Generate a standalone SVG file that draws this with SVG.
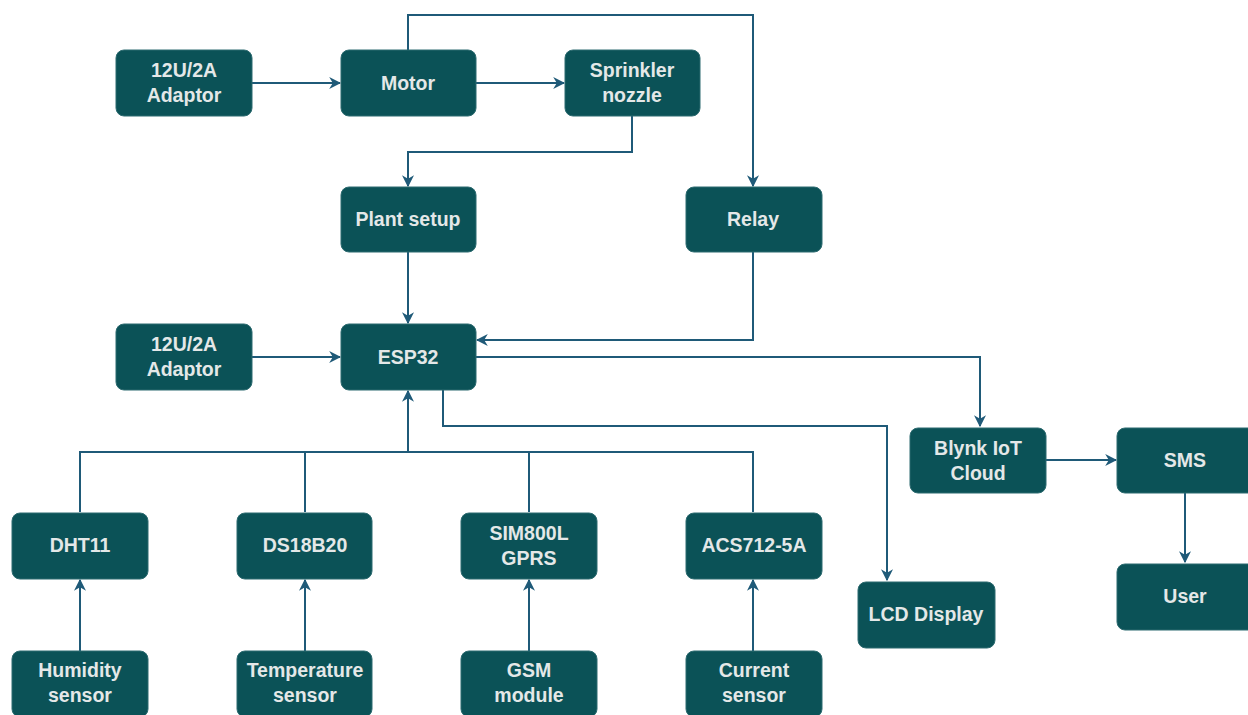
<svg xmlns="http://www.w3.org/2000/svg" width="1248" height="715" viewBox="0 0 1248 715">
<style>
.n rect{fill:#0b5257;stroke:#2d6b70;stroke-width:1}
.n text{font-family:"Liberation Sans",Arial,sans-serif;font-weight:bold;font-size:19.5px;fill:#e4e8e8;text-anchor:middle}
.c path{fill:none;stroke:#1f5a78;stroke-width:2}
</style>
<defs>
<marker id="a" viewBox="0 0 10 10" refX="9" refY="5" markerWidth="12" markerHeight="12" markerUnits="userSpaceOnUse" orient="auto">
<path d="M0,0 L10,5 L0,10 L3,5 Z" fill="#1f5a78"/>
</marker>
</defs>
<rect width="1248" height="715" fill="#ffffff"/>
<g class="c">
<path d="M252,83 H340" marker-end="url(#a)"/>
<path d="M476,83 H564" marker-end="url(#a)"/>
<path d="M408,50 V15 H753 V186" marker-end="url(#a)"/>
<path d="M632,116 V152 H408 V186" marker-end="url(#a)"/>
<path d="M408,252 V323" marker-end="url(#a)"/>
<path d="M753,252 V340 H477" marker-end="url(#a)"/>
<path d="M252,357 H340" marker-end="url(#a)"/>
<path d="M476,357 H980 V426" marker-end="url(#a)"/>
<path d="M443,390 V426 H887 V580" marker-end="url(#a)"/>
<path d="M80,512 V452 H753 V512"/>
<path d="M305,512 V452"/>
<path d="M529,512 V452"/>
<path d="M408,452 V391" marker-end="url(#a)"/>
<path d="M80,651 V580" marker-end="url(#a)"/>
<path d="M305,651 V580" marker-end="url(#a)"/>
<path d="M529,651 V580" marker-end="url(#a)"/>
<path d="M753,651 V580" marker-end="url(#a)"/>
<path d="M1046,460 H1116" marker-end="url(#a)"/>
<path d="M1185,493 V562" marker-end="url(#a)"/>
</g>
<g id="adaptor1" class="n"><rect x="116" y="50" width="136" height="66" rx="8"/><text x="184" y="77">12U/2A</text><text x="184" y="102">Adaptor</text></g>
<g id="motor" class="n"><rect x="341" y="50" width="135" height="66" rx="8"/><text x="408" y="90">Motor</text></g>
<g id="sprinkler" class="n"><rect x="565" y="50" width="135" height="66" rx="8"/><text x="632" y="77">Sprinkler</text><text x="632" y="102">nozzle</text></g>
<g id="plant" class="n"><rect x="341" y="187" width="135" height="65" rx="8"/><text x="408" y="226">Plant setup</text></g>
<g id="relay" class="n"><rect x="686" y="187" width="136" height="65" rx="8"/><text x="753" y="226">Relay</text></g>
<g id="adaptor2" class="n"><rect x="116" y="324" width="136" height="66" rx="8"/><text x="184" y="351">12U/2A</text><text x="184" y="376">Adaptor</text></g>
<g id="esp32" class="n"><rect x="341" y="324" width="135" height="66" rx="8"/><text x="408" y="364">ESP32</text></g>
<g id="blynk" class="n"><rect x="910" y="428" width="136" height="65" rx="8"/><text x="978" y="455">Blynk IoT</text><text x="978" y="480">Cloud</text></g>
<g id="sms" class="n"><rect x="1117" y="428" width="140" height="65" rx="8"/><text x="1185" y="467">SMS</text></g>
<g id="user" class="n"><rect x="1117" y="564" width="140" height="66" rx="8"/><text x="1185" y="603">User</text></g>
<g id="lcd" class="n"><rect x="858" y="582" width="137" height="66" rx="8"/><text x="926" y="621">LCD Display</text></g>
<g id="dht11" class="n"><rect x="12" y="513" width="136" height="66" rx="8"/><text x="80" y="552">DHT11</text></g>
<g id="ds18b20" class="n"><rect x="237" y="513" width="135" height="66" rx="8"/><text x="305" y="552">DS18B20</text></g>
<g id="sim800l" class="n"><rect x="461" y="513" width="136" height="66" rx="8"/><text x="529" y="540">SIM800L</text><text x="529" y="565">GPRS</text></g>
<g id="acs712" class="n"><rect x="686" y="513" width="136" height="66" rx="8"/><text x="754" y="552">ACS712-5A</text></g>
<g id="humidity" class="n"><rect x="12" y="651" width="136" height="66" rx="8"/><text x="80" y="677">Humidity</text><text x="80" y="702">sensor</text></g>
<g id="temperature" class="n"><rect x="237" y="651" width="135" height="66" rx="8"/><text x="305" y="677">Temperature</text><text x="305" y="702">sensor</text></g>
<g id="gsm" class="n"><rect x="461" y="651" width="136" height="66" rx="8"/><text x="529" y="677">GSM</text><text x="529" y="702">module</text></g>
<g id="current" class="n"><rect x="686" y="651" width="136" height="66" rx="8"/><text x="754" y="677">Current</text><text x="754" y="702">sensor</text></g>
</svg>
